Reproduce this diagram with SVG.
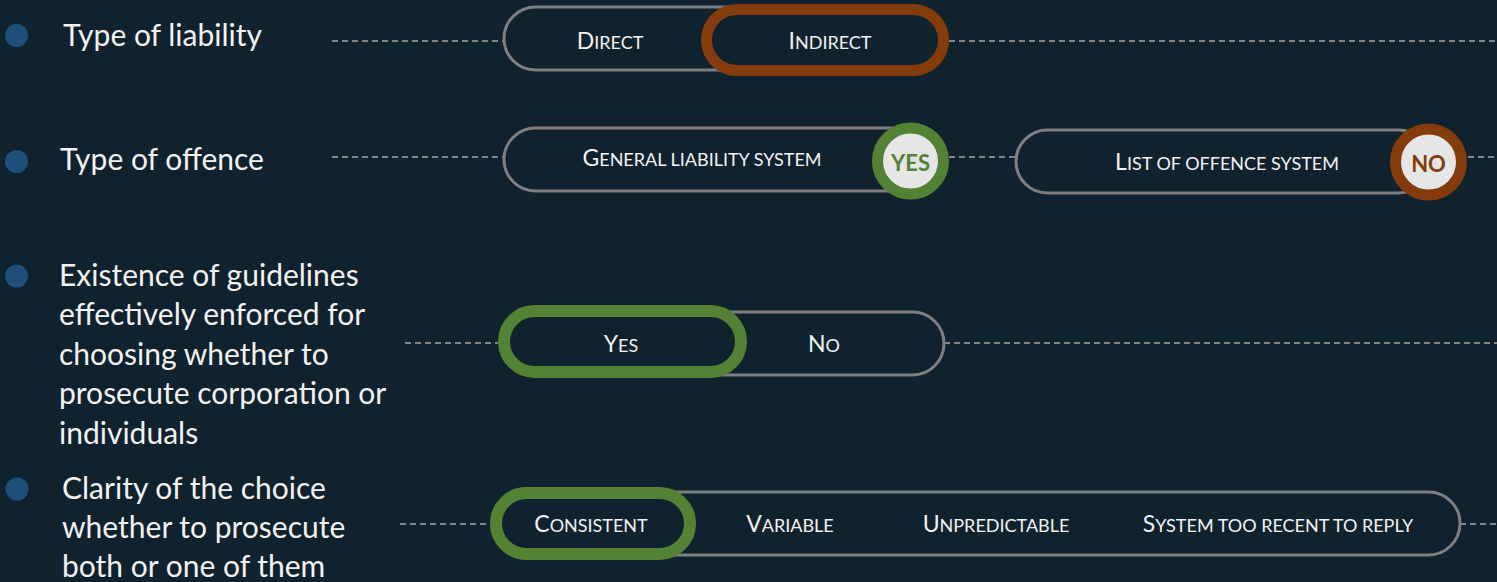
<svg xmlns="http://www.w3.org/2000/svg" width="1497" height="582" viewBox="0 0 1497 582">
<style>
.lbl{font-family:Lato,"Liberation Sans",sans-serif;font-size:30px;fill:#f2f2f2}
.sc{font-family:Lato,"Liberation Sans",sans-serif;font-size:18px;fill:#f2f2f2;text-anchor:middle}
.big{font-size:23px}
.pill{fill:#11222f;stroke:#7f7f7f;stroke-width:3}
.sel-o{fill:#11222f;stroke:#843c0c;stroke-width:11}
.sel-g{fill:#11222f;stroke:#548235;stroke-width:12}
.dash{stroke:#a6a6a6;stroke-width:1.3;stroke-dasharray:6 4;fill:none}
.bul{fill:#1f4e79}
.badge{font-family:Lato,"Liberation Sans",sans-serif;font-weight:bold;font-size:22px;text-anchor:middle}
</style>
<rect width="1497" height="582" fill="#11222f"/>
<g id="connectors">
<line class="dash" x1="332" y1="41" x2="504" y2="41"/>
<line class="dash" x1="949" y1="41" x2="1497" y2="41"/>
<line class="dash" x1="332" y1="157" x2="504" y2="157"/>
<line class="dash" x1="949" y1="157" x2="1016" y2="157"/>
<line class="dash" x1="1468" y1="157" x2="1497" y2="157"/>
<line class="dash" x1="405" y1="343" x2="498" y2="343"/>
<line class="dash" x1="944" y1="343" x2="1497" y2="343"/>
<line class="dash" x1="400" y1="524" x2="490" y2="524"/>
<line class="dash" x1="1460" y1="524" x2="1497" y2="524"/>
</g>
<g id="label-liability">
<circle class="bul" cx="16.5" cy="35.5" r="11.5"/>
<text class="lbl" x="63" y="46">Type of liability</text>
</g>
<g id="label-offence">
<circle class="bul" cx="16.5" cy="161.5" r="11.5"/>
<text class="lbl" x="60" y="170">Type of offence</text>
</g>
<g id="label-guidelines">
<circle class="bul" cx="16.5" cy="276" r="11.5"/>
<text class="lbl" x="59" y="285.5">Existence of guidelines</text>
<text class="lbl" x="59" y="325">effectively enforced for</text>
<text class="lbl" x="59" y="364.5">choosing whether to</text>
<text class="lbl" x="59" y="404">prosecute corporation or</text>
<text class="lbl" x="59" y="443.5">individuals</text>
</g>
<g id="label-clarity">
<circle class="bul" cx="17" cy="489" r="11.5"/>
<text class="lbl" x="62" y="499">Clarity of the choice</text>
<text class="lbl" x="62" y="538">whether to prosecute</text>
<text class="lbl" x="62" y="577">both or one of them</text>
</g>
<g id="node-liability">
<rect class="pill" x="504" y="7" width="436" height="63" rx="31.5"/>
<rect class="sel-o" x="706.5" y="9.5" width="237" height="61" rx="30.5"/>
<text class="sc" x="610" y="49"><tspan class="big">D</tspan>IRECT</text>
<text class="sc" x="830" y="49"><tspan class="big">I</tspan>NDIRECT</text>
</g>
<g id="node-general">
<rect class="pill" x="504" y="128" width="436" height="63" rx="31.5"/>
<text class="sc" x="702" y="166"><tspan class="big">G</tspan>ENERAL LIABILITY SYSTEM</text>
<circle cx="910.5" cy="161" r="33" fill="#e7e6e6" stroke="#548235" stroke-width="11"/>
<text class="badge" x="910.5" y="171" fill="#548235">YES</text>
</g>
<g id="node-list">
<rect class="pill" x="1016" y="130" width="414" height="63" rx="31.5"/>
<text class="sc" x="1227" y="170"><tspan class="big">L</tspan>IST OF OFFENCE SYSTEM</text>
<circle cx="1428.5" cy="162" r="33" fill="#e7e6e6" stroke="#843c0c" stroke-width="11"/>
<text class="badge" x="1428.5" y="172" fill="#843c0c">NO</text>
</g>
<g id="node-guidelines">
<rect class="pill" x="504" y="312" width="440" height="63" rx="31.5"/>
<rect class="sel-g" x="504" y="311" width="237" height="61" rx="30.5"/>
<text class="sc" x="621" y="352"><tspan class="big">Y</tspan>ES</text>
<text class="sc" x="824" y="352"><tspan class="big">N</tspan>O</text>
</g>
<g id="node-clarity">
<rect class="pill" x="496" y="492" width="964" height="63" rx="31.5"/>
<rect class="sel-g" x="496" y="493" width="194" height="61" rx="30.5"/>
<text class="sc" x="591" y="532"><tspan class="big">C</tspan>ONSISTENT</text>
<text class="sc" x="790" y="532"><tspan class="big">V</tspan>ARIABLE</text>
<text class="sc" x="996" y="532"><tspan class="big">U</tspan>NPREDICTABLE</text>
<text class="sc" x="1278" y="532"><tspan class="big">S</tspan>YSTEM TOO RECENT TO REPLY</text>
</g>
</svg>
